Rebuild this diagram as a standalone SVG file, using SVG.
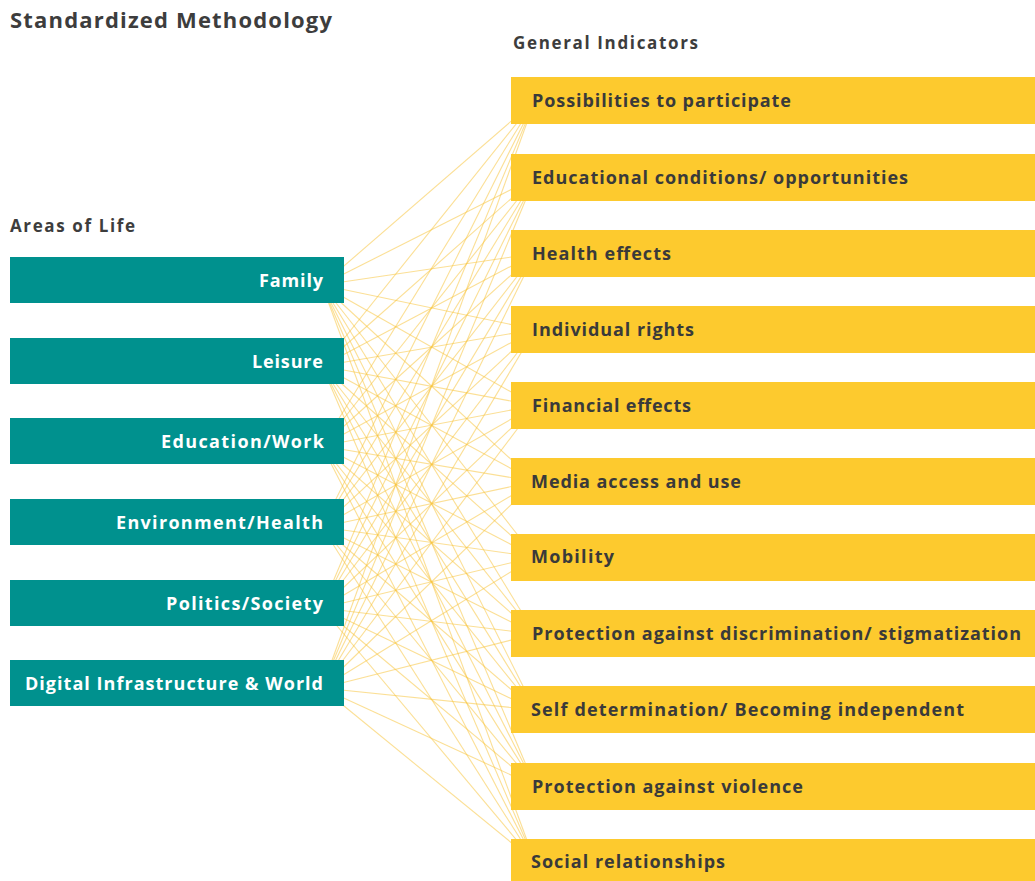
<svg xmlns="http://www.w3.org/2000/svg" width="1035" height="881" viewBox="0 0 1035 881">
<style>
.bg{fill:#ffffff}
.title{font-family:"Open Sans","Noto Sans",sans-serif;font-weight:700;fill:#3d3d3d}
.teal{fill:#00918E}
.yel{fill:#FDCA2E}
.tt{font-family:"Open Sans","Noto Sans",sans-serif;font-weight:700;font-size:18px;fill:#ffffff;text-anchor:end}
.yt{font-family:"Open Sans","Noto Sans",sans-serif;font-weight:700;font-size:18px;fill:#3a3a3a}
.cn line{stroke:#F7C43E;stroke-opacity:0.55;stroke-width:1.1;fill:none}
</style>
<rect class="bg" x="0" y="0" width="1035" height="881"/>
<text class="title" x="10" y="28" font-size="22" textLength="322">Standardized Methodology</text>
<text class="title" x="513" y="49" font-size="17" textLength="185">General Indicators</text>
<text class="title" x="10" y="232" font-size="17" textLength="125">Areas of Life</text>
<g class="cn" id="connectors">
<line x1="322" y1="285" x2="535" y2="100.5"/><line x1="322" y1="285" x2="535" y2="177.5"/><line x1="322" y1="285" x2="535" y2="253.5"/><line x1="322" y1="285" x2="535" y2="329.5"/><line x1="322" y1="285" x2="535" y2="405.5"/><line x1="322" y1="285" x2="535" y2="481.5"/><line x1="322" y1="285" x2="535" y2="557"/><line x1="322" y1="285" x2="535" y2="634"/><line x1="322" y1="285" x2="535" y2="710"/><line x1="322" y1="285" x2="535" y2="786"/><line x1="322" y1="285" x2="535" y2="862"/>
<line x1="322" y1="366" x2="535" y2="100.5"/><line x1="322" y1="366" x2="535" y2="177.5"/><line x1="322" y1="366" x2="535" y2="253.5"/><line x1="322" y1="366" x2="535" y2="329.5"/><line x1="322" y1="366" x2="535" y2="405.5"/><line x1="322" y1="366" x2="535" y2="481.5"/><line x1="322" y1="366" x2="535" y2="557"/><line x1="322" y1="366" x2="535" y2="634"/><line x1="322" y1="366" x2="535" y2="710"/><line x1="322" y1="366" x2="535" y2="786"/><line x1="322" y1="366" x2="535" y2="862"/>
<line x1="322" y1="446" x2="535" y2="100.5"/><line x1="322" y1="446" x2="535" y2="177.5"/><line x1="322" y1="446" x2="535" y2="253.5"/><line x1="322" y1="446" x2="535" y2="329.5"/><line x1="322" y1="446" x2="535" y2="405.5"/><line x1="322" y1="446" x2="535" y2="481.5"/><line x1="322" y1="446" x2="535" y2="557"/><line x1="322" y1="446" x2="535" y2="634"/><line x1="322" y1="446" x2="535" y2="710"/><line x1="322" y1="446" x2="535" y2="786"/><line x1="322" y1="446" x2="535" y2="862"/>
<line x1="322" y1="527" x2="535" y2="100.5"/><line x1="322" y1="527" x2="535" y2="177.5"/><line x1="322" y1="527" x2="535" y2="253.5"/><line x1="322" y1="527" x2="535" y2="329.5"/><line x1="322" y1="527" x2="535" y2="405.5"/><line x1="322" y1="527" x2="535" y2="481.5"/><line x1="322" y1="527" x2="535" y2="557"/><line x1="322" y1="527" x2="535" y2="634"/><line x1="322" y1="527" x2="535" y2="710"/><line x1="322" y1="527" x2="535" y2="786"/><line x1="322" y1="527" x2="535" y2="862"/>
<line x1="322" y1="608" x2="535" y2="100.5"/><line x1="322" y1="608" x2="535" y2="177.5"/><line x1="322" y1="608" x2="535" y2="253.5"/><line x1="322" y1="608" x2="535" y2="329.5"/><line x1="322" y1="608" x2="535" y2="405.5"/><line x1="322" y1="608" x2="535" y2="481.5"/><line x1="322" y1="608" x2="535" y2="557"/><line x1="322" y1="608" x2="535" y2="634"/><line x1="322" y1="608" x2="535" y2="710"/><line x1="322" y1="608" x2="535" y2="786"/><line x1="322" y1="608" x2="535" y2="862"/>
<line x1="322" y1="688" x2="535" y2="100.5"/><line x1="322" y1="688" x2="535" y2="177.5"/><line x1="322" y1="688" x2="535" y2="253.5"/><line x1="322" y1="688" x2="535" y2="329.5"/><line x1="322" y1="688" x2="535" y2="405.5"/><line x1="322" y1="688" x2="535" y2="481.5"/><line x1="322" y1="688" x2="535" y2="557"/><line x1="322" y1="688" x2="535" y2="634"/><line x1="322" y1="688" x2="535" y2="710"/><line x1="322" y1="688" x2="535" y2="786"/><line x1="322" y1="688" x2="535" y2="862"/>
</g>
<g id="area-family"><rect class="teal" x="10" y="257" width="334" height="46"/><text class="tt" x="323" y="286.5" textLength="64">Family</text></g>
<g id="area-leisure"><rect class="teal" x="10" y="338" width="334" height="46"/><text class="tt" x="323" y="367.5" textLength="71">Leisure</text></g>
<g id="area-education"><rect class="teal" x="10" y="418" width="334" height="46"/><text class="tt" x="324" y="447.5" textLength="163">Education/Work</text></g>
<g id="area-environment"><rect class="teal" x="10" y="499" width="334" height="46"/><text class="tt" x="323" y="528.5" textLength="207">Environment/Health</text></g>
<g id="area-politics"><rect class="teal" x="10" y="580" width="334" height="46"/><text class="tt" x="323" y="609.5" textLength="157">Politics/Society</text></g>
<g id="area-digital"><rect class="teal" x="10" y="660" width="334" height="46"/><text class="tt" x="323" y="689.5" textLength="298">Digital Infrastructure &amp; World</text></g>
<g id="ind-participate"><rect class="yel" x="511" y="77" width="524" height="47"/><text class="yt" x="532" y="107" textLength="259">Possibilities to participate</text></g>
<g id="ind-educational"><rect class="yel" x="511" y="154" width="524" height="47"/><text class="yt" x="532" y="184" textLength="376">Educational conditions/ opportunities</text></g>
<g id="ind-health"><rect class="yel" x="511" y="230" width="524" height="47"/><text class="yt" x="532" y="260" textLength="139">Health effects</text></g>
<g id="ind-rights"><rect class="yel" x="511" y="306" width="524" height="47"/><text class="yt" x="532" y="336" textLength="162">Individual rights</text></g>
<g id="ind-financial"><rect class="yel" x="511" y="382" width="524" height="47"/><text class="yt" x="532" y="412" textLength="159">Financial effects</text></g>
<g id="ind-media"><rect class="yel" x="511" y="458" width="524" height="47"/><text class="yt" x="531" y="488" textLength="210">Media access and use</text></g>
<g id="ind-mobility"><rect class="yel" x="511" y="534" width="524" height="47"/><text class="yt" x="531" y="563" textLength="83">Mobility</text></g>
<g id="ind-discrimination"><rect class="yel" x="511" y="610" width="524" height="47"/><text class="yt" x="532" y="640" textLength="489">Protection against discrimination/ stigmatization</text></g>
<g id="ind-selfdetermination"><rect class="yel" x="511" y="686" width="524" height="47"/><text class="yt" x="531" y="716" textLength="433">Self determination/ Becoming independent</text></g>
<g id="ind-violence"><rect class="yel" x="511" y="763" width="524" height="47"/><text class="yt" x="532" y="793" textLength="271">Protection against violence</text></g>
<g id="ind-social"><rect class="yel" x="511" y="839" width="524" height="47"/><text class="yt" x="531" y="868" textLength="194">Social relationships</text></g>
</svg>
